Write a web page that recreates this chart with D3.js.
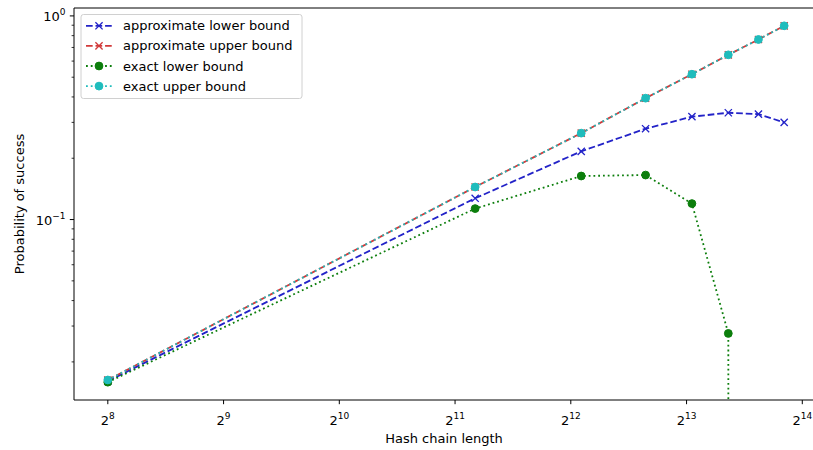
<!DOCTYPE html>
<html>
<head>
<meta charset="utf-8">
<script src="https://cdn.jsdelivr.net/npm/d3@7"></script>
<style>
  html, body { margin: 0; padding: 0; background: #fff; overflow: hidden; }
  svg { display: block; font-family: "DejaVu Sans", sans-serif; }
</style>
</head>
<body>
<svg id="chart" width="813" height="450"></svg>
<script>
// Hash chain lengths at which each bound was evaluated
const chainLengths = [256, 2310, 4360, 6410, 8460, 10520, 12600, 14700];

// Success probabilities for each bound
const approxLower = [0.0161, 0.1272, 0.2163, 0.2793, 0.3200, 0.3345, 0.3293, 0.3000];
const approxUpper = [0.0163, 0.1445, 0.2657, 0.3945, 0.5173, 0.6440, 0.7660, 0.8940];
const exactLower  = [0.0159, 0.1132, 0.1636, 0.1654, 0.1198, 0.0276, 0, 0];
const exactUpper  = [0.0163, 0.1445, 0.2657, 0.3945, 0.5173, 0.6440, 0.7660, 0.8940];

// Tick labels (powers)
const xTickExps = [8, 9, 10, 11, 12, 13, 14];
const yTickExps = [0, -1];

const seriesNames = ["approximate lower bound", "approximate upper bound", "exact lower bound", "exact upper bound"];

const svg = d3.select("#chart");
const plot = { left: 74, right: 818, top: 8, bottom: 400 };
const fs = 13;     // base font size
const supFs = 9;   // superscript font size

// Log-space padding of 5% on each side, as in matplotlib autoscaling
function paddedLogDomain(vals, base) {
  const lg = v => Math.log(v) / Math.log(base);
  const pos = vals.filter(v => v > 0);
  const lo = lg(d3.min(pos)), hi = lg(d3.max(pos));
  const pad = (hi - lo) * 0.05;
  return [Math.pow(base, lo - pad), Math.pow(base, hi + pad)];
}

const x = d3.scaleLog().base(2)
  .domain(paddedLogDomain(chainLengths, 2))
  .range([plot.left, plot.right]);

const allY = approxLower.concat(approxUpper, exactLower, exactUpper);
const y = d3.scaleLog().base(10)
  .domain(paddedLogDomain(allY, 10))
  .range([plot.bottom, plot.top]);

// Non-positive values are clipped to a tiny positive number
const clipVal = v => (v > 0 ? v : 1e-300);

const lw = 1.8;
const series = [
  { name: seriesNames[0], values: approxLower, color: "#2323c8", dash: `${3.7*lw},${1.6*lw}`, marker: "x" },
  { name: seriesNames[1], values: approxUpper, color: "#d23a3a", dash: `${3.7*lw},${1.6*lw}`, marker: "x" },
  { name: seriesNames[2], values: exactLower,  color: "#0c7e0c", dash: `${1*lw},${1.65*lw}`, marker: "o" },
  { name: seriesNames[3], values: exactUpper,  color: "#1fbcbc", dash: `${1*lw},${1.65*lw}`, marker: "o" }
];

svg.append("defs").append("clipPath").attr("id", "plotclip")
  .append("rect")
  .attr("x", plot.left).attr("y", plot.top)
  .attr("width", plot.right - plot.left).attr("height", plot.bottom - plot.top);

const gPlot = svg.append("g").attr("clip-path", "url(#plotclip)");

const line = d3.line()
  .x((d, i) => x(chainLengths[i]))
  .y(d => y(clipVal(d)));

function drawMarker(g, type, cx, cy, color, size) {
  const h = size / 2;
  if (type === "x") {
    g.append("path")
      .attr("d", `M${cx-h},${cy-h}L${cx+h},${cy+h}M${cx-h},${cy+h}L${cx+h},${cy-h}`)
      .attr("stroke", color).attr("stroke-width", 1.3).attr("fill", "none");
  } else {
    g.append("circle").attr("cx", cx).attr("cy", cy).attr("r", h)
      .attr("fill", color).attr("stroke", color).attr("stroke-width", 1);
  }
}

series.forEach(s => {
  gPlot.append("path")
    .datum(s.values)
    .attr("d", line)
    .attr("fill", "none")
    .attr("stroke", s.color)
    .attr("stroke-width", lw)
    .attr("stroke-dasharray", s.dash);
  const mg = gPlot.append("g");
  s.values.forEach((v, i) => {
    if (v > 0) drawMarker(mg, s.marker, x(chainLengths[i]), y(v), s.color, s.marker === "x" ? 7.2 : 7.8);
  });
});

// Axes spines (left, bottom, top; the right edge lies beyond the canvas)
const spine = svg.append("g").attr("stroke", "#000").attr("stroke-width", 1).attr("fill", "none");
spine.append("line").attr("x1", plot.left).attr("x2", plot.left).attr("y1", plot.top).attr("y2", plot.bottom);
spine.append("line").attr("x1", plot.left).attr("x2", plot.right).attr("y1", plot.bottom).attr("y2", plot.bottom);
spine.append("line").attr("x1", plot.left).attr("x2", plot.right).attr("y1", plot.top).attr("y2", plot.top);

// X axis ticks (powers of two)
const xAxis = svg.append("g");
xTickExps.forEach(e => {
  const px = x(Math.pow(2, e));
  xAxis.append("line").attr("x1", px).attr("x2", px).attr("y1", plot.bottom).attr("y2", plot.bottom + 4.2)
    .attr("stroke", "#000").attr("stroke-width", 1);
  const t = xAxis.append("text").attr("x", px).attr("y", plot.bottom + 25)
    .attr("text-anchor", "middle").attr("font-size", fs).attr("fill", "#000");
  t.append("tspan").text("2");
  t.append("tspan").attr("dy", -6).attr("font-size", supFs).text(String(e));
});

// Y axis major ticks (powers of ten)
const yAxis = svg.append("g");
yTickExps.forEach(e => {
  const py = y(Math.pow(10, e));
  yAxis.append("line").attr("x1", plot.left - 4.2).attr("x2", plot.left).attr("y1", py).attr("y2", py)
    .attr("stroke", "#000").attr("stroke-width", 1);
  const t = yAxis.append("text").attr("x", plot.left - 8.4).attr("y", py + 5.5)
    .attr("text-anchor", "end").attr("font-size", fs).attr("fill", "#000");
  t.append("tspan").text("10");
  t.append("tspan").attr("dy", -6.5).attr("font-size", supFs).text(e < 0 ? "\u2212" + Math.abs(e) : String(e));
});

// Y axis minor ticks
const [yLo, yHi] = y.domain();
for (let dec = Math.floor(Math.log10(yLo)); dec <= Math.ceil(Math.log10(yHi)); dec++) {
  for (let m = 2; m <= 9; m++) {
    const v = m * Math.pow(10, dec);
    if (v < yLo || v > yHi) continue;
    const py = y(v);
    yAxis.append("line").attr("x1", plot.left - 2.4).attr("x2", plot.left).attr("y1", py).attr("y2", py)
      .attr("stroke", "#000").attr("stroke-width", 0.8);
  }
}

// Axis labels
svg.append("text")
  .attr("x", (plot.left + 814) / 2).attr("y", 443)
  .attr("text-anchor", "middle").attr("font-size", fs).attr("fill", "#000")
  .text("Hash chain length");

svg.append("text")
  .attr("transform", `translate(19,${(plot.top + plot.bottom) / 2}) rotate(-90)`)
  .attr("text-anchor", "middle").attr("dominant-baseline", "central")
  .attr("font-size", fs).attr("fill", "#000")
  .text("Probability of success");

// Legend
const lg = svg.append("g");
lg.append("rect")
  .attr("x", 81).attr("y", 14.5).attr("width", 221).attr("height", 84).attr("rx", 2.5)
  .attr("fill", "#fff").attr("fill-opacity", 0.8).attr("stroke", "#d0d0d0").attr("stroke-width", 1);
series.forEach((s, i) => {
  const cy = 25.8 + i * 20.1;
  lg.append("line").attr("x1", 86).attr("x2", 112).attr("y1", cy).attr("y2", cy)
    .attr("stroke", s.color).attr("stroke-width", lw).attr("stroke-dasharray", s.dash);
  drawMarker(lg, s.marker, 99, cy, s.color, s.marker === "x" ? 7.2 : 7.8);
  lg.append("text").attr("x", 123).attr("y", cy).attr("dominant-baseline", "central")
    .attr("font-size", fs).attr("fill", "#000").text(s.name);
});
</script>
</body>
</html>
